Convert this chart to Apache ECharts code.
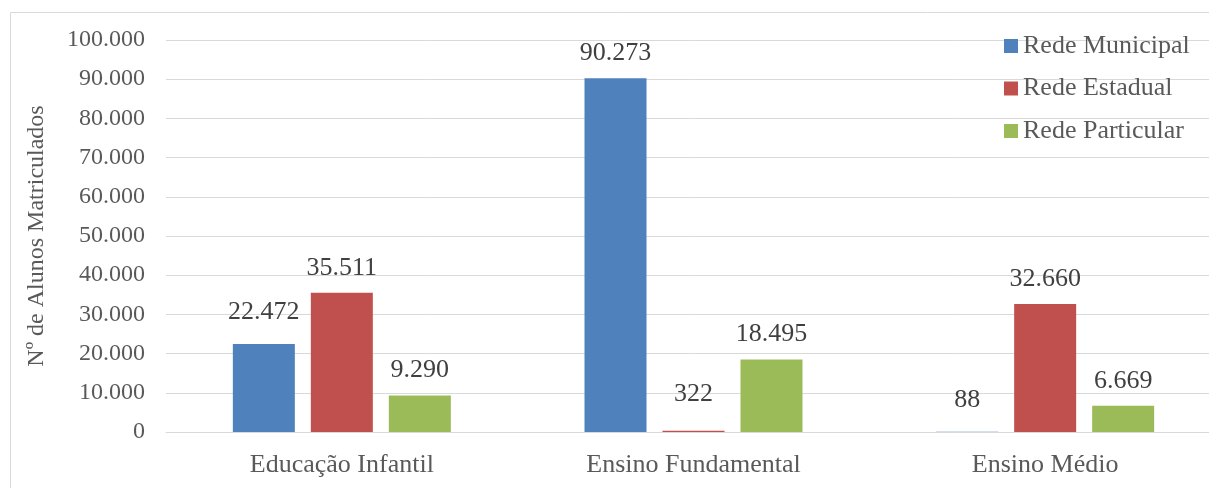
<!DOCTYPE html>
<html>
<head>
<meta charset="utf-8">
<script src="https://cdn.jsdelivr.net/npm/echarts@6/dist/echarts.min.js"></script>
<style>
  html, body { margin: 0; padding: 0; background: #fff; overflow: hidden; }
  /* the plot runs a little past the right edge of the frame */
  #chart { width: 1232px; height: 488px; }
</style>
</head>
<body>
<div id="chart"></div>
<script>
// Matrículas por etapa de ensino e rede
const categories = ['Educação Infantil', 'Ensino Fundamental', 'Ensino Médio'];
const seriesNames = ['Rede Municipal', 'Rede Estadual', 'Rede Particular'];
const redeMunicipal = [22472, 90273, 88];
const redeEstadual = [35511, 322, 32660];
const redeParticular = [9290, 18495, 6669];
const yTicks = [0, 10000, 20000, 30000, 40000, 50000, 60000, 70000, 80000, 90000, 100000];

const colors = ['#4F81BD', '#C0504D', '#9BBB59'];
const FONT = "'Liberation Serif', 'Times New Roman', serif";

// pt-BR thousands separator
function fmt(v) {
  return String(Math.round(v)).replace(/\B(?=(\d{3})+(?!\d))/g, '.');
}

// extra lift for labels that sit above neighbouring text
const labelLift = {
  'Rede Municipal': [7, 0, 6],
  'Rede Estadual': [0, 12, 0],
  'Rede Particular': [0, 0, 0]
};

function buildSeries(name, values, color) {
  return {
    name: name,
    type: 'bar',
    barWidth: 62,
    barGap: '25.8%',
    itemStyle: { color: color },
    data: values.map((v, i) => ({
      value: v,
      label: { distance: 12 + labelLift[name][i] }
    })),
    label: {
      show: true,
      position: 'top',
      distance: 12,
      fontFamily: FONT,
      fontSize: 26,
      color: '#404040',
      formatter: p => fmt(p.value)
    }
  };
}

const chart = echarts.init(document.getElementById('chart'), null, { renderer: 'canvas' });
chart.setOption({
  animation: false,
  backgroundColor: '#fff',
  textStyle: { fontFamily: FONT },
  graphic: [{
    type: 'rect',
    shape: { x: 10.5, y: 12.5, width: 1300, height: 600 },
    style: { fill: 'none', stroke: '#D9D9D9', lineWidth: 1 },
    silent: true,
    z: -1
  }],
  legend: {
    orient: 'vertical',
    left: 1004,
    top: 33,
    padding: 0,
    itemWidth: 14,
    itemHeight: 14,
    itemGap: 16.5,
    icon: 'rect',
    data: seriesNames,
    textStyle: { fontFamily: FONT, fontSize: 26, color: '#595959', lineHeight: 26 }
  },
  grid: { left: 166, top: 40, width: 1055, height: 392, containLabel: false },
  xAxis: {
    type: 'category',
    data: categories,
    axisLine: { lineStyle: { color: '#D9D9D9', width: 1 } },
    axisTick: { show: false },
    axisLabel: { fontFamily: FONT, fontSize: 26, color: '#595959', margin: 20 }
  },
  yAxis: {
    type: 'value',
    min: yTicks[0],
    max: yTicks[yTicks.length - 1],
    interval: yTicks[1] - yTicks[0],
    name: 'Nº de Alunos Matriculados',
    nameLocation: 'middle',
    nameGap: 117,
    nameTextStyle: { fontFamily: FONT, fontSize: 24, color: '#595959' },
    axisLine: { show: false },
    axisTick: { show: false },
    splitLine: { lineStyle: { color: '#D9D9D9', width: 1 } },
    axisLabel: { fontFamily: FONT, fontSize: 24, color: '#595959', margin: 21, formatter: v => fmt(v) }
  },
  series: [
    buildSeries(seriesNames[0], redeMunicipal, colors[0]),
    buildSeries(seriesNames[1], redeEstadual, colors[1]),
    buildSeries(seriesNames[2], redeParticular, colors[2])
  ]
});
</script>
</body>
</html>
